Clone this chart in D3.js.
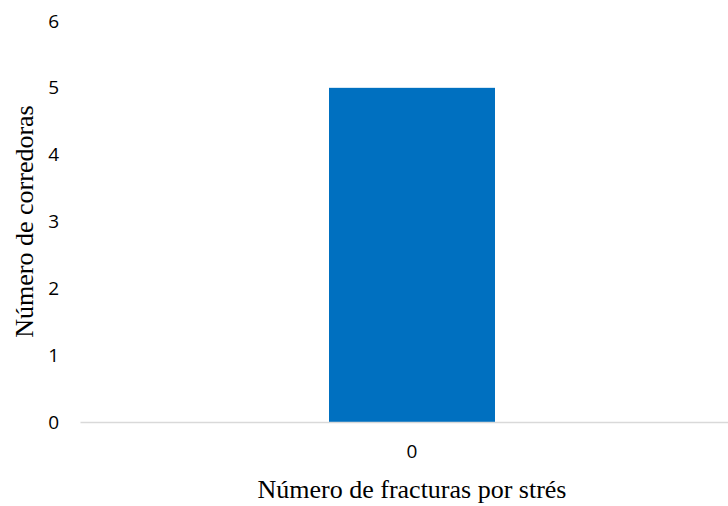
<!DOCTYPE html>
<html>
<head>
<meta charset="utf-8">
<script src="https://cdn.jsdelivr.net/npm/d3@7"></script>
<style>
  html, body { margin: 0; padding: 0; background: #fff; }
  svg { display: block; }
</style>
</head>
<body>
<svg id="chart" width="728" height="506"></svg>
<script>
// Stress-fracture count vs. number of runners
const categories = ["0"];
const runners = [5];
const yTicks = [0, 1, 2, 3, 4, 5, 6];
const xTitle = "Número de fracturas por strés";
const yTitle = "Número de corredoras";

const svg = d3.select("#chart");
const plot = { left: 80, right: 744, top: 21, bottom: 422 };

const x = d3.scaleBand()
  .domain(categories)
  .range([plot.left, plot.right])
  .paddingInner(0.6)
  .paddingOuter(0.6);

const y = d3.scaleLinear()
  .domain([0, 6])
  .range([plot.bottom, plot.top]);

// bars
svg.append("g")
  .selectAll("rect")
  .data(categories.map((c, i) => ({ c, v: runners[i] })))
  .join("rect")
  .attr("x", d => x(d.c))
  .attr("y", d => y(d.v))
  .attr("width", x.bandwidth())
  .attr("height", d => y(0) - y(d.v))
  .attr("fill", "#0070C0");

// category axis
const xAxis = svg.append("g")
  .attr("transform", `translate(0,${plot.bottom})`)
  .call(d3.axisBottom(x).tickSize(0).tickPadding(23));
xAxis.select(".domain").attr("stroke", "#d9d9d9").attr("stroke-width", 1.5);
xAxis.selectAll("text")
  .attr("font-family", "'Open Sans', sans-serif")
  .attr("font-size", 19)
  .attr("fill", "#000");

// value axis (labels only)
const yAxis = svg.append("g")
  .attr("transform", `translate(${plot.left - 21},0)`)
  .call(d3.axisLeft(y).tickValues(yTicks).tickFormat(d3.format("d")).tickSize(0).tickPadding(0));
yAxis.select(".domain").remove();
yAxis.selectAll("text")
  .attr("font-family", "'Open Sans', sans-serif")
  .attr("font-size", 19)
  .attr("fill", "#000");

// axis titles
svg.append("text")
  .attr("x", x(categories[0]) + x.bandwidth() / 2)
  .attr("y", 498)
  .attr("text-anchor", "middle")
  .attr("font-family", "'Liberation Serif', 'Times New Roman', serif")
  .attr("font-size", 26)
  .attr("fill", "#000")
  .text(xTitle);

svg.append("text")
  .attr("transform", `translate(33,${(plot.top + plot.bottom) / 2}) rotate(-90)`)
  .attr("text-anchor", "middle")
  .attr("font-family", "'Liberation Serif', 'Times New Roman', serif")
  .attr("font-size", 26)
  .attr("fill", "#000")
  .text(yTitle);
</script>
</body>
</html>
